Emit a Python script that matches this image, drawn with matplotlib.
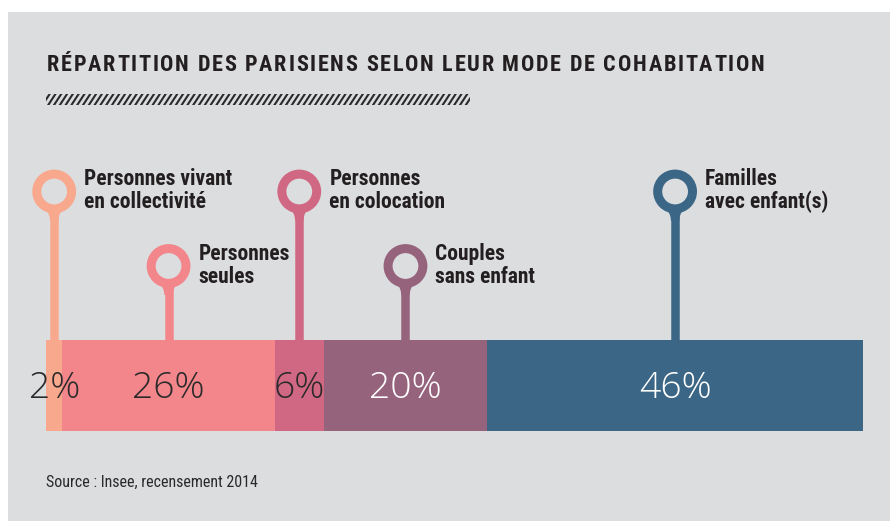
import matplotlib
matplotlib.use("Agg")
import matplotlib.pyplot as plt
from matplotlib import font_manager as fm
from matplotlib.font_manager import FontProperties
from matplotlib.ft2font import FT2Font
from matplotlib.patches import Rectangle
from matplotlib.collections import LineCollection
from matplotlib.transforms import offset_copy
import numpy as np

# ---------------- data ----------------
categories = ["Personnes vivant\nen collectivité", "Personnes\nseules",
              "Personnes\nen colocation", "Couples\nsans enfant",
              "Familles\navec enfant(s)"]
shares = [2, 26, 6, 20, 46]
value_labels = ["2%", "26%", "6%", "20%", "46%"]
pin_high = [True, False, True, False, True]

title = "RÉPARTITION DES PARISIENS SELON LEUR MODE DE COHABITATION"
source = "Source : Insee, recensement 2014"

# ---------------- style ----------------
colors = ["#f8a88d", "#f2868b", "#d16883", "#96637d", "#3b6685"]
value_colors = ["#2a2a2a", "#2a2a2a", "#2a2a2a", "#ffffff", "#ffffff"]
BG = "#dcdddf"
DARK = "#231f20"

names = {f.name for f in fm.fontManager.ttflist}
cond = next((f for f in ["Roboto Condensed", "Liberation Sans Narrow", "Roboto"] if f in names), "DejaVu Sans")
light = next((f for f in ["Open Sans", "Lato", "Roboto"] if f in names), "DejaVu Sans")

W, H = 890, 521
fig = plt.figure(figsize=(W / 100, H / 100), dpi=100)
fig.patch.set_facecolor("white")
fig.patches.append(Rectangle((8 / W, 0), 1 - 8 / W, 1 - 12 / H, transform=fig.transFigure,
                             facecolor=BG, edgecolor="none", zorder=-5))

def fy(px):
    return 1 - px / H

def tracked_text(s, x0, y_base, width_target, size, family, weight, color):
    """Draw text char by char with letter spacing so that it spans width_target px."""
    fp = FontProperties(family=family, weight=weight)
    font = FT2Font(fm.findfont(fp))
    font.set_size(size, 100)
    adv = [font.load_char(ord(c)).linearHoriAdvance / 65536 for c in s]
    natural = sum(adv[:-1]) + adv[-1] * 0.9
    track = (width_target - natural) / (len(s) - 1)
    x = x0
    for c, a in zip(s, adv):
        fig.text(x / W, fy(y_base), c, fontproperties=fp, fontsize=size, color=color,
                 va="baseline", ha="left")
        x += a + track

# title
tracked_text(title, 47, 71, 716, 16, cond, "bold", DARK)

# hatched decoration (own small axes in pixel units, clipped to its box)
hx = fig.add_axes([46 / W, fy(105), 424 / W, 11 / H])
hx.set_xlim(0, 424)
hx.set_ylim(0, 11)
hx.axis("off")
hx.patch.set_alpha(0)
starts = np.arange(-10, 430, 5.8)
segs = [[(s0, -1), (s0 + 8.5, 12)] for s0 in starts]
hx.add_collection(LineCollection(segs, colors="#2a2a2a", linewidths=1.5))

# source
fig.text(46 / W, fy(486.5), source, fontfamily=cond, fontsize=11.5, color="#2a2a2a",
         va="baseline", ha="left")

# main axes: x in percent, y in pixel rows from the top
AX_W = 817
ax = fig.add_axes([46 / W, 0, AX_W / W, 1])
ax.set_xlim(0, 100)
ax.set_ylim(H, 0)
ax.axis("off")
ax.patch.set_alpha(0)
px = 100 / AX_W   # one pixel in x data units

shares_a = np.array(shares, dtype=float)
lefts = np.concatenate([[0], np.cumsum(shares_a)[:-1]])
centers = lefts + shares_a / 2

bar_top, bar_bot = 340, 431
ax.barh((bar_top + bar_bot) / 2, shares_a, left=lefts, height=bar_bot - bar_top,
        color=colors, edgecolor="none", zorder=3)

ring_r_mid = 17.4   # px
ring_w = 9.0        # px
stem_w = 8.5        # px
t = np.linspace(0, 1, 12)
for i, (cx, hi) in enumerate(zip(centers, pin_high)):
    cy = 191.5 if hi else 266
    ax.vlines(cx, cy + ring_r_mid, bar_top + 1, color=colors[i], lw=stem_w * 0.72,
              zorder=2, clip_on=False)
    ax.scatter([cx], [cy], s=(2 * ring_r_mid * 0.72) ** 2, facecolors="none",
               edgecolors=colors[i], linewidths=ring_w * 0.72, zorder=2, clip_on=False)
    # small fillet joining ring and stem
    off = stem_w / 2 + (10.5 - stem_w / 2) * (1 - t) ** 2
    yy = cy + 15 + 14 * t
    ax.fill(np.concatenate([cx - off * px, (cx + off * px)[::-1]]),
            np.concatenate([yy, yy[::-1]]), color=colors[i], lw=0, zorder=2, clip_on=False)
    tr = offset_copy(ax.transData, fig=fig, x=30, y=0, units="dots")
    base = 185 if hi else 260
    for j, line in enumerate(categories[i].split("\n")):
        ax.text(cx, base + 23 * j, line, transform=tr, fontfamily=cond, fontweight="bold",
                fontsize=15.5, color=DARK, ha="left", va="baseline", zorder=4)
    ax.text(cx, 398, value_labels[i], fontfamily=light, fontweight="light", fontsize=26.8,
            color=value_colors[i], ha="center", va="baseline", zorder=4)

fig.savefig("out.png", dpi=100, facecolor=fig.get_facecolor())
